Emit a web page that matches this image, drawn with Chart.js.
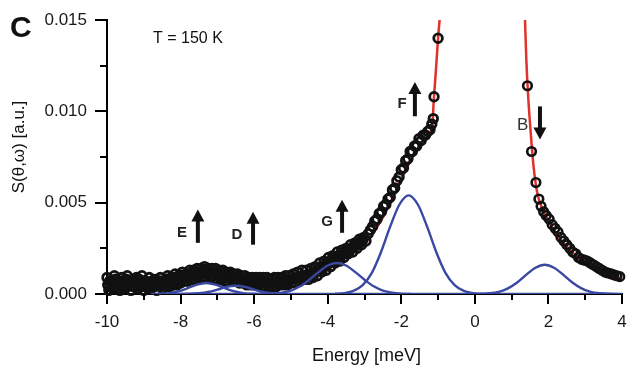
<!DOCTYPE html>
<html lang="en">
<head>
<meta charset="UTF-8">
<title>S(theta,omega) at T = 150 K</title>
<style>
    body {
        margin: 0;
        background: #fff;
    }

    .chart-box {
        width: 635px;
        height: 375px;
        position: relative;
    }
</style>
<script src="https://cdn.jsdelivr.net/npm/chart.js"></script>
</head>
<body>
<div class="chart-box"><canvas id="spectrum"></canvas></div>

<script>
    // axis ticks
    const xTicks = [-10, -8, -6, -4, -2, 0, 2, 4];
    const xMinorTicks = [-9, -7, -5, -3, -1, 1, 3];
    const yTicks = [0, 0.005, 0.010, 0.015];
    const yMinorTicks = [0.0025, 0.0075, 0.0125];

    // measured points, energy loss side (the noisy part is very dense)
    const lossE = [
        -10.00, -9.95, -9.90, -9.85, -9.80, -9.75, -9.70, -9.65, -9.60, -9.55, -9.50, -9.45,
        -9.40, -9.35, -9.30, -9.25, -9.20, -9.15, -9.10, -9.05, -9.00, -8.95, -8.90, -8.85,
        -8.80, -8.75, -8.70, -8.65, -8.60,
        -8.55, -8.50, -8.45, -8.40, -8.35, -8.30, -8.25, -8.20, -8.15, -8.10, -8.05, -8.00,
        -7.95, -7.90, -7.85, -7.80, -7.75, -7.70, -7.65, -7.60, -7.55, -7.50, -7.45, -7.40,
        -7.35, -7.30, -7.25, -7.20, -7.15, -7.10, -7.05, -7.00, -6.95, -6.90, -6.85, -6.80,
        -6.75, -6.70, -6.65, -6.60, -6.55, -6.50, -6.45, -6.40, -6.35, -6.30, -6.25, -6.20,
        -6.15, -6.10, -6.05, -6.00, -5.95, -5.90, -5.85, -5.80, -5.75, -5.70, -5.65, -5.60,
        -5.55, -5.50, -5.45, -5.40, -5.35, -5.30, -5.25, -5.20, -5.15, -5.10, -5.05, -5.00,
        -4.94, -4.88, -4.82, -4.76, -4.70, -4.64, -4.58, -4.52, -4.46, -4.40, -4.34, -4.28,
        -4.22, -4.16, -4.10, -4.04, -3.98, -3.92, -3.86, -3.80, -3.74, -3.68, -3.62, -3.56,
        -3.50, -3.44, -3.38, -3.32, -3.26, -3.20, -3.14, -3.08, -3.02, -2.96, -2.90, -2.84,
        -2.78, -2.72, -2.66, -2.60, -2.54, -2.48, -2.42, -2.36, -2.30, -2.24, -2.18, -2.12,
        -2.06, -2.00, -1.94, -1.88, -1.82, -1.76, -1.70, -1.64, -1.58, -1.52, -1.46, -1.40,
        -1.34, -1.28, -1.22, -1.17, -1.13, -1.11, -1.00
    ];
    const lossS = [
        0.0009, 0.0002, 0.0006, 0.0003, 0.0010, 0.0004, 0.0007, 0.0002, 0.0009, 0.0005, 0.0003, 0.0010,
        0.0006, 0.0002, 0.0008, 0.0004, 0.0009, 0.0003, 0.0006, 0.0010, 0.0002, 0.0007, 0.0004, 0.0009,
        0.0003, 0.0006, 0.0008, 0.0002, 0.0006,
        0.0009, 0.0003, 0.0007, 0.0004, 0.0010, 0.0004, 0.0009, 0.0005, 0.0011, 0.0005, 0.0010, 0.0006,
        0.0012, 0.0007, 0.0011, 0.0007, 0.0013, 0.0008, 0.0013, 0.0008, 0.0014, 0.0009, 0.0014, 0.0009,
        0.0015, 0.0009, 0.0014, 0.0009, 0.0014, 0.0008, 0.0014, 0.0008, 0.0013, 0.0008, 0.0013, 0.0007,
        0.0012, 0.0007, 0.0012, 0.0007, 0.0011, 0.0007, 0.0011, 0.0006, 0.0010, 0.0006, 0.0010, 0.0005,
        0.0009, 0.0005, 0.0009, 0.0005, 0.0009, 0.0005, 0.0009, 0.0004, 0.0009, 0.0004, 0.0009, 0.0004,
        0.0008, 0.0004, 0.0009, 0.0004, 0.0009, 0.0005, 0.0009, 0.0005, 0.0010, 0.0005, 0.0010, 0.0006,
        0.0011, 0.0006, 0.0012, 0.0007, 0.0013, 0.0008, 0.0013, 0.0008, 0.0014, 0.0009, 0.0015, 0.0010,
        0.0017, 0.0012, 0.0018, 0.0013, 0.0020, 0.0015, 0.0021, 0.0017, 0.0023, 0.0018, 0.0024, 0.0020,
        0.0025, 0.0022, 0.0027, 0.0023, 0.0028, 0.0025, 0.0030, 0.0027, 0.0031, 0.0029, 0.0033, 0.0035,
        0.0037, 0.0040, 0.0041, 0.0044, 0.0045, 0.0048, 0.0049, 0.0052, 0.0053, 0.0057, 0.0058, 0.0062,
        0.0064, 0.0068, 0.0069, 0.0073, 0.0074, 0.0078, 0.0078, 0.0081, 0.0081, 0.0085, 0.0084, 0.0087,
        0.0087, 0.0089, 0.0090, 0.0093, 0.0096, 0.0108, 0.0140
    ];
    // in-between points of the same scan (middle of the thick band)
    const lossMidE = [
        -9.975, -9.925, -9.875, -9.825, -9.775, -9.725, -9.675, -9.625, -9.575, -9.525, -9.475, -9.425,
        -9.375, -9.325, -9.275, -9.225, -9.175, -9.125, -9.075, -9.025, -8.975, -8.925, -8.875, -8.825,
        -8.775, -8.725, -8.675, -8.625,
        -8.575, -8.525, -8.475, -8.425, -8.375, -8.325, -8.275, -8.225, -8.175, -8.125, -8.075, -8.025,
        -7.975, -7.925, -7.875, -7.825, -7.775, -7.725, -7.675, -7.625, -7.575, -7.525, -7.475, -7.425,
        -7.375, -7.325, -7.275, -7.225, -7.175, -7.125, -7.075, -7.025, -6.975, -6.925, -6.875, -6.825,
        -6.775, -6.725, -6.675, -6.625, -6.575, -6.525, -6.475, -6.425, -6.375, -6.325, -6.275, -6.225,
        -6.175, -6.125, -6.075, -6.025, -5.975, -5.925, -5.875, -5.825, -5.775, -5.725, -5.675, -5.625,
        -5.575, -5.525, -5.475, -5.425, -5.375, -5.325, -5.275, -5.225, -5.175, -5.125, -5.075, -5.025,
        -4.91, -4.85, -4.79, -4.73, -4.67, -4.61, -4.55, -4.49, -4.43, -4.37, -4.31, -4.25,
        -4.19, -4.13, -4.07, -4.01, -3.95, -3.89, -3.83, -3.77, -3.71, -3.65, -3.59, -3.53,
        -3.47, -3.41, -3.35, -3.29, -3.23, -3.17, -3.11, -3.05
    ];
    const lossMidS = [
        0.0005, 0.0007, 0.0004, 0.0006, 0.0008, 0.0005, 0.0003, 0.0007, 0.0006, 0.0004, 0.0008, 0.0005,
        0.0006, 0.0007, 0.0004, 0.0006, 0.0005, 0.0008, 0.0004, 0.0006, 0.0007, 0.0005, 0.0003, 0.0006,
        0.0007, 0.0004, 0.0005, 0.0007,
        0.0007, 0.0005, 0.0007, 0.0006, 0.0008, 0.0006, 0.0008, 0.0007, 0.0009, 0.0007, 0.0009, 0.0008,
        0.0010, 0.0009, 0.0010, 0.0009, 0.0011, 0.0010, 0.0012, 0.0010, 0.0012, 0.0011, 0.0012, 0.0011,
        0.0013, 0.0011, 0.0012, 0.0011, 0.0012, 0.0011, 0.0012, 0.0010, 0.0011, 0.0010, 0.0011, 0.0009,
        0.0010, 0.0009, 0.0010, 0.0008, 0.0009, 0.0008, 0.0009, 0.0008, 0.0008, 0.0007, 0.0008, 0.0007,
        0.0008, 0.0006, 0.0007, 0.0006, 0.0007, 0.0006, 0.0007, 0.0006, 0.0007, 0.0006, 0.0007, 0.0006,
        0.0007, 0.0006, 0.0007, 0.0006, 0.0007, 0.0006, 0.0008, 0.0007, 0.0008, 0.0007, 0.0008, 0.0008,
        0.00084, 0.00088, 0.00092, 0.00096, 0.0010, 0.00101, 0.00103, 0.00107, 0.00114, 0.0012, 0.00127, 0.00134,
        0.00141, 0.00148, 0.00156, 0.00165, 0.00175, 0.00182, 0.0019, 0.00197, 0.00204, 0.0021, 0.00217, 0.00225,
        0.00234, 0.00242, 0.0025, 0.00258, 0.00266, 0.00275, 0.00285, 0.00295
    ];

    // measured points, energy gain side
    const gainE = [1.43, 1.54, 1.66, 1.74, 1.80, 1.87, 1.94, 2.02, 2.10, 2.18, 2.26, 2.34, 2.42, 2.50, 2.58, 2.66,
        2.74, 2.82, 2.90, 2.98, 3.06, 3.14, 3.22, 3.30, 3.38, 3.46, 3.54, 3.62, 3.70, 3.78, 3.86, 3.94];
    const gainS = [0.0114, 0.0078, 0.0061, 0.0052, 0.0048, 0.0045, 0.0043, 0.0041, 0.0038, 0.0036, 0.0034, 0.0031,
        0.0029, 0.0027, 0.0025, 0.0023, 0.0022, 0.0020, 0.0019, 0.00185, 0.0018, 0.0017, 0.0016, 0.0015,
        0.0014, 0.0013, 0.0012, 0.00115, 0.0011, 0.00105, 0.0010, 0.00095];

    // total fit (red), the elastic line leaves the frame at the top
    const fitLossE = [-10, -9.5, -9, -8.5, -8, -7.5, -7, -6.5, -6, -5.5, -5, -4.5, -4, -3.5, -3, -2.75, -2.5,
        -2.25, -2, -1.75, -1.5, -1.25, -1.15, -1.12, -1.06, -1.0, -0.95];
    const fitLossS = [0.0006, 0.00058, 0.0006, 0.00072, 0.0009, 0.00112, 0.0011, 0.00092, 0.00072, 0.00068,
        0.0008, 0.0011, 0.0016, 0.0021, 0.0028, 0.0034, 0.0042, 0.0052, 0.0063, 0.0073, 0.0081, 0.0087,
        0.0094, 0.0105, 0.0122, 0.0140, 0.0152];
    const fitGainE = [1.36, 1.40, 1.45, 1.52, 1.60, 1.70, 1.85, 2.0, 2.25, 2.5, 2.75, 3.0, 3.25, 3.5, 3.75, 4.0];
    const fitGainS = [0.0152, 0.0128, 0.0108, 0.0088, 0.0069, 0.0055, 0.0046, 0.0040, 0.0032, 0.0026, 0.0021,
        0.0017, 0.0014, 0.0011, 0.00095, 0.00082];

    // single modes (blue)
    const modeE_E = [-8.8, -8.55, -8.3, -8.05, -7.8, -7.55, -7.3, -7.05, -6.8, -6.55, -6.3, -6.05, -5.8];
    const modeE_S = [0, 0.00001, 0.00005, 0.00015, 0.00032, 0.00051, 0.0006, 0.00051, 0.00032, 0.00015, 0.00005, 0.00001, 0];
    const modeD_E = [-8.0, -7.75, -7.5, -7.25, -7.0, -6.75, -6.5, -6.25, -6.0, -5.75, -5.5, -5.25, -5.0];
    const modeD_S = [0, 0.00001, 0.00004, 0.00011, 0.00024, 0.00039, 0.00045, 0.00039, 0.00024, 0.00011, 0.00004, 0.00001, 0];
    const modeG_E = [-5.75, -5.5, -5.25, -5.0, -4.75, -4.5, -4.25, -4.0, -3.75, -3.5, -3.25, -3.0, -2.75, -2.5, -2.25, -2.0, -1.75];
    const modeG_S = [0.00001, 0.00002, 0.000075, 0.00019, 0.00042, 0.00078, 0.0012, 0.00156, 0.0017, 0.00156, 0.0012,
        0.00078, 0.00042, 0.00019, 0.000075, 0.00002, 0];
    const modeF_E = [-3.8, -3.55, -3.3, -3.05, -2.8, -2.55, -2.3, -2.05, -1.8, -1.55, -1.3, -1.05, -0.8, -0.55, -0.3, -0.05, 0.2];
    const modeF_S = [0.00001, 0.00005, 0.00017, 0.00049, 0.00116, 0.0023, 0.0037, 0.0049, 0.0054, 0.0049, 0.0037,
        0.0023, 0.00116, 0.00049, 0.00017, 0.00005, 0];
    const modeB_E = [0.15, 0.4, 0.65, 0.9, 1.15, 1.4, 1.65, 1.9, 2.15, 2.4, 2.65, 2.9, 3.15, 3.4, 3.65, 3.9];
    const modeB_S = [0.00001, 0.00004, 0.00012, 0.00031, 0.00063, 0.00106, 0.00144, 0.0016, 0.00144, 0.00106,
        0.00063, 0.00031, 0.00012, 0.00004, 0.00001, 0];
    const baseE = [-8.6, 4];
    const baseS = [0, 0];

    // arrow marks: tail -> tip, label beside
    const arrows = [
        { label: 'E', x: -7.53, from: 0.0028, to: 0.00462, lx: -7.96, ly: 0.00335, bold: true },
        { label: 'D', x: -6.03, from: 0.0027, to: 0.0045, lx: -6.47, ly: 0.00324, bold: true },
        { label: 'G', x: -3.61, from: 0.00335, to: 0.00516, lx: -4.02, ly: 0.00396, bold: true },
        { label: 'F', x: -1.63, from: 0.00973, to: 0.0116, lx: -1.98, ly: 0.0104, bold: true },
        { label: 'B', x: 1.77, from: 0.01027, to: 0.00846, lx: 1.30, ly: 0.00923, bold: false }
    ];

    const FONT = '"Liberation Sans", Arial, sans-serif';
    const RED = '#e0322d';
    const BLUE = '#3a48a2';

    function pts(xs, ys) {
        return xs.map((x, i) => ({ x: x, y: ys[i] }));
    }

    function lineSet(xs, ys, color, width, order) {
        return {
            data: pts(xs, ys),
            showLine: true,
            borderColor: color,
            borderWidth: width,
            pointRadius: 0,
            cubicInterpolationMode: 'monotone',
            order: order
        };
    }

    function pointSet(xs, ys, ring) {
        return {
            data: pts(xs, ys),
            showLine: false,
            pointStyle: 'circle',
            pointRadius: 4.3,
            pointBorderWidth: ring,
            pointBorderColor: '#111',
            pointBackgroundColor: 'rgba(0,0,0,0)',
            clip: false,
            order: 1
        };
    }

    // minor ticks, arrows and the free texts
    const overlay = {
        id: 'overlay',
        afterDraw(chart) {
            const { ctx, chartArea } = chart;
            const xs = chart.scales.x;
            const ys = chart.scales.y;
            ctx.save();
            ctx.strokeStyle = '#000';
            ctx.lineWidth = 2;
            xMinorTicks.forEach(v => {
                const px = Math.round(xs.getPixelForValue(v));
                ctx.beginPath();
                ctx.moveTo(px, chartArea.bottom);
                ctx.lineTo(px, chartArea.bottom + 6);
                ctx.stroke();
            });
            yMinorTicks.forEach(v => {
                const py = Math.round(ys.getPixelForValue(v));
                ctx.beginPath();
                ctx.moveTo(chartArea.left, py);
                ctx.lineTo(chartArea.left - 7, py);
                ctx.stroke();
            });

            arrows.forEach(a => {
                const px = xs.getPixelForValue(a.x);
                const p0 = ys.getPixelForValue(a.from);
                const p1 = ys.getPixelForValue(a.to);
                const dir = p1 < p0 ? 1 : -1;   // 1 = pointing up
                const head = 12;
                ctx.fillStyle = '#111';
                ctx.strokeStyle = '#111';
                ctx.lineWidth = 4;
                ctx.beginPath();
                ctx.moveTo(px, p0);
                ctx.lineTo(px, p1 + dir * (head - 2));
                ctx.stroke();
                ctx.beginPath();
                ctx.moveTo(px, p1);
                ctx.lineTo(px - 6.5, p1 + dir * head);
                ctx.lineTo(px + 6.5, p1 + dir * head);
                ctx.closePath();
                ctx.fill();

                ctx.font = (a.bold ? 'bold 15px ' : '17px ') + FONT;
                ctx.fillStyle = a.bold ? '#222' : '#333';
                ctx.textAlign = 'center';
                ctx.textBaseline = 'middle';
                ctx.fillText(a.label, xs.getPixelForValue(a.lx), ys.getPixelForValue(a.ly));
            });

            ctx.fillStyle = '#111';
            ctx.textBaseline = 'alphabetic';
            ctx.textAlign = 'left';
            ctx.font = 'bold 30px ' + FONT;
            ctx.fillText('C', 10, 37);
            ctx.font = '16px ' + FONT;
            ctx.fillText('T = 150 K', 153, 43);

            ctx.font = '18px ' + FONT;
            ctx.textAlign = 'center';
            ctx.fillText('Energy [meV]', (chartArea.left + chartArea.right) / 2 + 2, 361);

            ctx.translate(19, 147);
            ctx.rotate(-Math.PI / 2);
            ctx.font = '17px ' + FONT;
            ctx.textBaseline = 'middle';
            ctx.fillText('S(\u03b8,\u03c9) [a.u.]', 0, 0);
            ctx.restore();
        }
    };

    new Chart(document.getElementById('spectrum'), {
        type: 'scatter',
        data: {
            datasets: [
                lineSet(fitLossE, fitLossS, RED, 2.5, 2),
                lineSet(fitGainE, fitGainS, RED, 2.5, 2),
                pointSet(lossE, lossS, 2.8),
                pointSet(lossMidE, lossMidS, 3.2),
                pointSet(gainE, gainS, 2.6),
                lineSet(baseE, baseS, BLUE, 2.4, 0),
                lineSet(modeE_E, modeE_S, BLUE, 2.4, 0),
                lineSet(modeD_E, modeD_S, BLUE, 2.4, 0),
                lineSet(modeG_E, modeG_S, BLUE, 2.4, 0),
                lineSet(modeF_E, modeF_S, BLUE, 2.4, 0),
                lineSet(modeB_E, modeB_S, BLUE, 2.4, 0)
            ]
        },
        options: {
            responsive: true,
            maintainAspectRatio: false,
            animation: false,
            layout: { padding: { top: 20, right: 13, left: 0, bottom: 0 } },
            plugins: {
                legend: { display: false },
                tooltip: { enabled: false }
            },
            scales: {
                x: {
                    type: 'linear',
                    min: -10,
                    max: 4,
                    afterBuildTicks: s => { s.ticks = xTicks.map(v => ({ value: v })); },
                    afterFit: s => { s.height = 81; },
                    border: { display: true, color: '#000', width: 2 },
                    grid: { drawOnChartArea: false, drawTicks: true, tickLength: 10, color: '#000', lineWidth: 2 },
                    ticks: {
                        color: '#1a1a1a',
                        padding: 8,
                        maxRotation: 0,
                        font: { family: FONT, size: 17 },
                        callback: v => String(v)
                    }
                },
                y: {
                    type: 'linear',
                    min: 0,
                    max: 0.015,
                    afterBuildTicks: s => { s.ticks = yTicks.map(v => ({ value: v })); },
                    afterFit: s => { s.width = 107; },
                    border: { display: true, color: '#000', width: 2 },
                    grid: { drawOnChartArea: false, drawTicks: true, tickLength: 12, color: '#000', lineWidth: 2 },
                    ticks: {
                        color: '#1a1a1a',
                        padding: 8,
                        font: { family: FONT, size: 17 },
                        callback: v => Number(v).toFixed(3)
                    }
                }
            }
        },
        plugins: [overlay]
    });
</script>
</body>
</html>
